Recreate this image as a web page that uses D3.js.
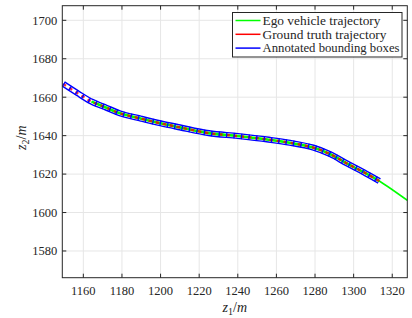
<!DOCTYPE html>
<html>
<head>
<meta charset="utf-8">
<script src="https://cdn.jsdelivr.net/npm/d3@7"></script>
<style>
  body{margin:0;background:#fff;}
  text{font-family:"Liberation Serif","DejaVu Serif",serif;fill:#262626;}
</style>
</head>
<body>
<svg></svg>
<script>
// ego vehicle trajectory (green)
const egoX = [1164.3,1172,1179,1190,1200,1210,1225,1240,1256,1267,1279,1288,1296.4,1305,1313.3,1328];
const egoY = [1657.7,1654.5,1651.6,1648.8,1646.4,1644.3,1641.3,1639.8,1637.9,1636.3,1633.8,1630.3,1625.6,1621.1,1616.4,1606.2];
// ground truth trajectory (red) / annotated boxes along it
const gtX = [1149.6,1157,1164.3,1172,1179,1190,1200,1210,1225,1240,1256,1267,1279,1288,1296.4,1305,1313.3];
const gtY = [1666.9,1662.1,1657.7,1654.5,1651.6,1648.8,1646.4,1644.3,1641.3,1639.8,1637.9,1636.3,1633.8,1630.3,1625.6,1621.1,1616.4];
const xTicks = [1160,1180,1200,1220,1240,1260,1280,1300,1320];
const yTicks = [1580,1600,1620,1640,1660,1680,1700];
const legendLabels = ["Ego vehicle trajectory","Ground truth trajectory","Annotated bounding boxes"];
const legendColors = ["#00ff00","#ff0000","#0000ff"];

const W = 412, H = 318;
const m = {l:62.3, r:4.7, t:5.7, b:40.3};
const svg = d3.select("svg").attr("width",W).attr("height",H);

const x = d3.scaleLinear().domain([1149.1,1327.8]).range([m.l, W-m.r]);
const y = d3.scaleLinear().domain([1566.1,1707.6]).range([H-m.b, m.t]);

svg.append("defs").append("clipPath").attr("id","clip")
  .append("rect").attr("x",m.l).attr("y",m.t).attr("width",W-m.l-m.r).attr("height",H-m.t-m.b);

// grid
const grid = svg.append("g");
grid.selectAll(".gx").data(xTicks).enter().append("line")
  .attr("x1",d=>x(d)).attr("x2",d=>x(d)).attr("y1",m.t).attr("y2",H-m.b)
  .attr("stroke","#e6e6e6").attr("stroke-width",1);
grid.selectAll(".gy").data(yTicks).enter().append("line")
  .attr("y1",d=>y(d)).attr("y2",d=>y(d)).attr("x1",m.l).attr("x2",W-m.r)
  .attr("stroke","#e6e6e6").attr("stroke-width",1);

const plot = svg.append("g").attr("clip-path","url(#clip)");
const gt = d3.range(gtX.length).map(i=>[gtX[i],gtY[i]]);
const ego = d3.range(egoX.length).map(i=>[egoX[i],egoY[i]]);
const line = d3.line().x(d=>x(d[0])).y(d=>y(d[1])).curve(d3.curveCatmullRom.alpha(0.5));

// bounding boxes: outline band
plot.append("path").attr("d",line(gt)).attr("fill","none")
  .attr("stroke","#0000ff").attr("stroke-width",6.2);
plot.append("path").attr("d",line(gt)).attr("fill","none")
  .attr("stroke","#ffffff").attr("stroke-width",3.4);
// ego trajectory
plot.append("path").attr("d",line(ego)).attr("fill","none")
  .attr("stroke","#00ff00").attr("stroke-width",1.6);
plot.append("path").attr("d",line(ego.slice(0,-1))).attr("fill","none")
  .attr("stroke","#00ff00").attr("stroke-width",2.6);
// ground truth (dashed)
plot.append("path").attr("d",line(gt)).attr("fill","none")
  .attr("stroke","#ff0000").attr("stroke-opacity",0.8).attr("stroke-width",2.4).attr("stroke-dasharray","3.5,3.7");
// box short edges
plot.append("path").attr("d",line(gt)).attr("fill","none")
  .attr("stroke","#0000ff").attr("stroke-width",5.5).attr("stroke-dasharray","1.3,6.2");

// axes
const ax = svg.append("g");
const axisColor = "#262626";
ax.append("rect").attr("x",m.l).attr("y",m.t).attr("width",W-m.l-m.r).attr("height",H-m.t-m.b)
  .attr("fill","none").attr("stroke",axisColor).attr("stroke-width",1);
ax.selectAll(".tb").data(xTicks).enter().append("line")
  .attr("x1",d=>x(d)).attr("x2",d=>x(d)).attr("y1",H-m.b).attr("y2",H-m.b-4).attr("stroke",axisColor);
ax.selectAll(".tt").data(xTicks).enter().append("line")
  .attr("x1",d=>x(d)).attr("x2",d=>x(d)).attr("y1",m.t).attr("y2",m.t+4).attr("stroke",axisColor);
ax.selectAll(".tl").data(yTicks).enter().append("line")
  .attr("y1",d=>y(d)).attr("y2",d=>y(d)).attr("x1",m.l).attr("x2",m.l+4).attr("stroke",axisColor);
ax.selectAll(".tr").data(yTicks).enter().append("line")
  .attr("y1",d=>y(d)).attr("y2",d=>y(d)).attr("x1",W-m.r).attr("x2",W-m.r-4).attr("stroke",axisColor);

ax.selectAll(".lx").data(xTicks).enter().append("text")
  .attr("x",d=>x(d)).attr("y",H-m.b+17).attr("text-anchor","middle")
  .attr("font-size",12.5).text(d=>d);
ax.selectAll(".ly").data(yTicks).enter().append("text")
  .attr("x",m.l-5).attr("y",d=>y(d)).attr("dy","0.35em").attr("text-anchor","end")
  .attr("font-size",12.5).text(d=>d);

// axis labels
const xl = svg.append("text").attr("x",(m.l+W-m.r)/2).attr("y",H-6)
  .attr("text-anchor","middle").attr("font-size",14);
xl.append("tspan").attr("font-style","italic").text("z");
xl.append("tspan").attr("font-size",10).attr("dy",3).text("1");
xl.append("tspan").attr("dy",-3).text("/");
xl.append("tspan").attr("font-style","italic").text("m");

const yl = svg.append("text").attr("transform","translate(26,"+((m.t+H-m.b)/2-4)+") rotate(-90)")
  .attr("text-anchor","middle").attr("font-size",14);
yl.append("tspan").attr("font-style","italic").text("z");
yl.append("tspan").attr("font-size",10).attr("dy",3).text("2");
yl.append("tspan").attr("dy",-3).text("/");
yl.append("tspan").attr("font-style","italic").text("m");

// legend
const lg = svg.append("g").attr("transform","translate(232.5,12.5)");
lg.append("rect").attr("width",169.5).attr("height",44.5)
  .attr("fill","#fff").attr("stroke",axisColor).attr("stroke-width",1);
const legendW = [118,124,137];
legendLabels.forEach((t,i)=>{
  const yy = 8 + i*13.8;
  lg.append("line").attr("x1",3).attr("x2",28).attr("y1",yy).attr("y2",yy)
    .attr("stroke",legendColors[i]).attr("stroke-width",1.5);
  lg.append("text").attr("x",30).attr("y",yy).attr("dy","0.35em")
    .attr("font-size",12).attr("textLength",legendW[i]).attr("lengthAdjust","spacingAndGlyphs").text(t);
});
</script>
</body>
</html>
